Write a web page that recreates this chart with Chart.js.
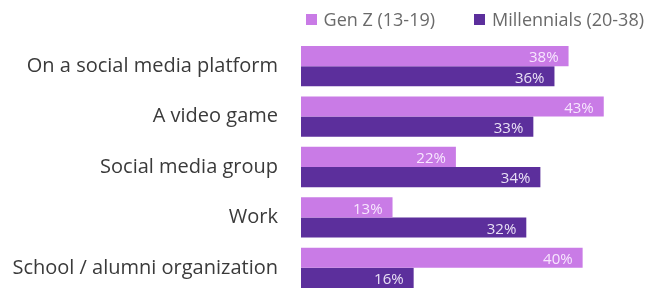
<!DOCTYPE html>
<html>
<head>
<meta charset="utf-8">
<script src="https://cdn.jsdelivr.net/npm/chart.js@4"></script>
<style>
  html, body { margin: 0; padding: 0; background: #fff; }
  body { width: 646px; height: 289px; overflow: hidden; position: relative; font-family: "Open Sans", sans-serif; }
  #legend { position: absolute; top: 7px; right: 2px; display: flex; gap: 39px; font-size: 18px; color: #6a6a6a; z-index: 2; }
  #legend .item { display: flex; align-items: center; }
  #legend .box { width: 11px; height: 11px; margin-right: 7px; }
  canvas { position: absolute; left: 0; top: 0; }
</style>
</head>
<body>
<div id="legend"></div>
<canvas id="graph" width="646" height="328"></canvas>
<script>
var categories = ['On a social media platform', 'A video game', 'Social media group', 'Work', 'School / alumni organization'];
var seriesNames = ['Gen Z (13-19)', 'Millennials (20-38)'];
var genZ = [38, 43, 22, 13, 40];
var millennials = [36, 33, 34, 32, 16];
var colors = ['#c97be6', '#5c2f9c'];

// html legend, built from the series names
var legend = document.getElementById('legend');
seriesNames.forEach(function (name, i) {
    var item = document.createElement('div');
    item.className = 'item';
    var box = document.createElement('span');
    box.className = 'box';
    box.style.background = colors[i];
    var txt = document.createElement('span');
    txt.textContent = name;
    item.appendChild(box);
    item.appendChild(txt);
    legend.appendChild(item);
});

// writes the % inside the end of each bar
const barLabels = {
    id: 'barLabels',
    afterDatasetsDraw(chart) {
        const ctx = chart.ctx;
        ctx.save();
        ctx.font = '15px "Open Sans", sans-serif';
        ctx.textAlign = 'right';
        ctx.textBaseline = 'middle';
        chart.data.datasets.forEach((ds, i) => {
            ctx.fillStyle = i === 0 ? 'rgba(250,236,255,0.95)' : 'rgba(240,234,250,0.95)';
            chart.getDatasetMeta(i).data.forEach((bar, j) => {
                ctx.fillText(ds.data[j] + '%', bar.x - 10, bar.y + 2);
            });
        });
        ctx.restore();
    }
};

new Chart(document.getElementById('graph'), {
    type: 'bar',
    data: {
        labels: categories,
        datasets: [{
            label: seriesNames[0],
            data: genZ,
            backgroundColor: colors[0],
            barPercentage: 1,
            categoryPercentage: 0.8
        }, {
            label: seriesNames[1],
            data: millennials,
            backgroundColor: colors[1],
            barPercentage: 1,
            categoryPercentage: 0.8
        }]
    },
    options: {
        indexAxis: 'y',
        responsive: false,
        animation: false,
        layout: { padding: { top: 41, bottom: 0, right: 0, left: 0 } },
        plugins: {
            legend: { display: false },
            tooltip: { enabled: false }
        },
        scales: {
            x: { display: false, min: 0, max: 49 },
            y: {
                grid: { display: false, drawTicks: false },
                border: { display: false },
                ticks: {
                    color: '#3a3a3a',
                    padding: 23,
                    font: { family: '"Open Sans", sans-serif', size: 20 }
                },
                afterFit(scale) { scale.width = 301; }
            }
        }
    },
    plugins: [barLabels]
});
</script>
</body>
</html>
